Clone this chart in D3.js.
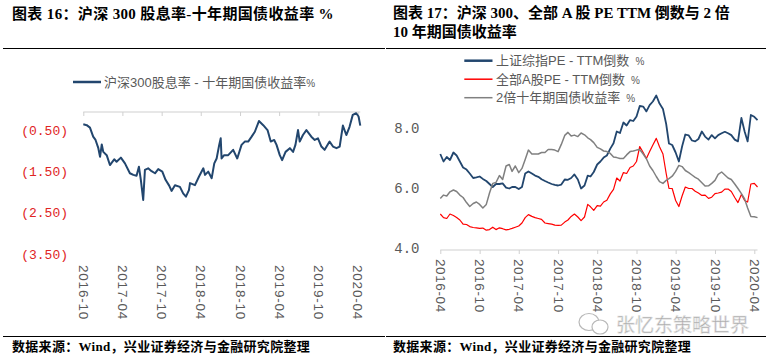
<!DOCTYPE html>
<html><head><meta charset="utf-8">
<script src="https://cdn.jsdelivr.net/npm/d3@7/dist/d3.min.js"></script>
<style>
html,body{margin:0;padding:0;background:#fff;}
svg{display:block;}
</style></head>
<body>
<svg id="c" width="772" height="359"></svg>
<script>
// ---------------- DATA ----------------
const leftTitle = "图表 16：沪深 300 股息率-十年期国债收益率 %";
const rightTitle1 = "图表 17：沪深 300、全部 A 股 PE TTM 倒数与 2 倍";
const rightTitle2 = "10 年期国债收益率";
const sourceText = "数据来源：Wind，兴业证券经济与金融研究院整理";
const leftLegend = "沪深300股息率 - 十年期国债收益率";
const rightLegend = ["上证综指PE - TTM倒数", "全部A股PE - TTM倒数", "2倍十年期国债收益率"];
const watermark = "张忆东策略世界";

const leftXTicks = ["2016-10","2017-04","2017-10","2018-04","2018-10","2019-04","2019-10","2020-04"];
const leftYTicks = [-0.5,-1.5,-2.5,-3.5];
const rightXTicks = ["2016-04","2016-10","2017-04","2017-10","2018-04","2018-10","2019-04","2019-10","2020-04"];
const rightYTicks = [4,6,8];

const leftDates = ["2016-10-01","2016-10-17","2016-11-01","2016-11-16","2016-11-27","2016-12-10","2016-12-18","2016-12-26","2017-01-02","2017-01-18",
"2017-02-02","2017-02-22","2017-03-05","2017-03-25","2017-04-13","2017-05-06","2017-05-22","2017-06-06","2017-06-17","2017-06-26",
"2017-07-07","2017-07-15","2017-07-30","2017-08-15","2017-08-31","2017-09-15","2017-10-04","2017-10-19","2017-11-05","2017-11-16",
"2017-12-02","2017-12-25","2018-01-09","2018-01-22","2018-02-05","2018-02-10","2018-03-05","2018-03-24","2018-04-13","2018-04-21",
"2018-05-06","2018-05-22","2018-06-03","2018-06-14","2018-06-26","2018-07-03","2018-07-07","2018-07-19","2018-08-07","2018-08-30",
"2018-09-18","2018-10-08","2018-10-23","2018-11-08","2018-11-24","2018-12-09","2018-12-28","2019-01-17","2019-02-06","2019-02-21",
"2019-03-09","2019-03-20","2019-04-04","2019-04-15","2019-05-01","2019-05-21","2019-06-05","2019-06-16","2019-06-28","2019-07-06",
"2019-07-21","2019-08-06","2019-08-29","2019-09-14","2019-09-29","2019-10-15","2019-10-30","2019-11-22","2019-12-08","2019-12-24",
"2020-01-08","2020-01-23","2020-02-08","2020-02-23","2020-03-09","2020-03-25","2020-04-05","2020-04-13"];
const leftValues = [-0.30,-0.32,-0.38,-0.60,-0.68,-0.88,-1.09,-0.79,-0.97,-1.05,
-1.29,-1.15,-1.21,-1.11,-1.25,-1.49,-1.53,-1.55,-1.33,-1.65,
-2.14,-1.41,-1.37,-1.44,-1.49,-1.39,-1.45,-1.65,-1.79,-1.92,
-1.78,-1.82,-1.98,-2.06,-1.90,-1.73,-1.78,-1.57,-1.37,-1.53,
-1.45,-1.61,-1.25,-1.13,-0.80,-0.64,-1.13,-1.05,-1.05,-0.92,
-1.13,-0.80,-0.72,-0.72,-0.60,-0.48,-0.22,-0.32,-0.44,-0.72,
-0.68,-0.80,-1.05,-1.17,-0.97,-0.88,-0.97,-0.80,-0.44,-0.72,
-0.56,-0.44,-0.60,-0.68,-0.64,-0.84,-0.92,-0.72,-0.84,-0.88,
-0.84,-0.33,-0.56,-0.36,-0.07,-0.03,-0.11,-0.33];

const rightDates = [
"2016-04-01","2016-04-16","2016-05-01","2016-05-16","2016-06-01","2016-06-16","2016-07-01","2016-07-16","2016-08-01","2016-08-16","2016-09-01","2016-09-16","2016-10-01","2016-10-16","2016-11-01","2016-11-16","2016-12-01","2016-12-16",
"2017-01-01","2017-01-16","2017-02-01","2017-02-16","2017-03-01","2017-03-16","2017-04-01","2017-04-16","2017-05-01","2017-05-16","2017-06-01","2017-06-16","2017-07-01","2017-07-16","2017-08-01","2017-08-16","2017-09-01","2017-09-16","2017-10-01","2017-10-16","2017-11-01","2017-11-16","2017-12-01","2017-12-16",
"2018-01-01","2018-01-16","2018-02-01","2018-02-16","2018-03-01","2018-03-16","2018-04-01","2018-04-16","2018-05-01","2018-05-16","2018-06-01","2018-06-16","2018-07-01","2018-07-16","2018-08-01","2018-08-16","2018-09-01","2018-09-16","2018-10-01","2018-10-16","2018-11-01","2018-11-16","2018-12-01","2018-12-16",
"2019-01-01","2019-01-16","2019-02-01","2019-02-16","2019-03-01","2019-03-16","2019-04-01","2019-04-16","2019-05-01","2019-05-16","2019-06-01","2019-06-16","2019-07-01","2019-07-16","2019-08-01","2019-08-16","2019-09-01","2019-09-16","2019-10-01","2019-10-16","2019-11-01","2019-11-16","2019-12-01","2019-12-16",
"2020-01-01","2020-01-16","2020-02-01","2020-02-16","2020-03-01","2020-03-16","2020-04-01","2020-04-16"];
const shPEInv = [7.20,6.95,7.10,7.00,7.25,7.15,6.95,6.75,6.68,6.55,6.40,6.42,6.45,6.37,6.30,6.20,6.10,6.20,
6.20,6.22,6.08,6.05,6.10,6.10,6.03,6.10,6.55,6.62,6.55,6.48,6.44,6.36,6.30,6.25,6.20,6.17,6.15,6.18,6.35,6.34,6.40,6.52,
6.35,6.05,6.15,6.48,6.45,6.60,6.85,6.95,7.08,7.15,7.38,7.56,7.95,7.90,8.25,8.15,8.33,8.30,8.45,8.80,8.78,8.62,8.83,8.95,
9.15,8.88,8.70,8.20,7.55,7.50,7.25,6.95,7.45,7.85,7.82,7.65,7.62,7.70,7.95,7.78,7.68,7.83,7.72,7.83,7.89,7.94,7.89,7.83,
7.68,7.62,8.40,7.95,7.62,8.50,8.44,8.33];
const allAPEInv = [5.20,5.08,5.05,5.20,5.15,5.08,5.00,4.86,4.85,4.78,4.75,4.74,4.72,4.73,4.66,4.68,4.76,4.68,
4.74,4.71,4.67,4.69,4.72,4.76,4.80,4.90,5.08,5.18,5.12,5.08,5.05,5.02,4.90,4.88,4.86,4.83,4.82,4.83,4.93,5.00,5.12,5.20,
5.10,4.98,5.10,5.52,5.44,5.32,5.48,5.46,5.60,5.66,5.87,6.02,6.40,6.30,6.58,6.55,6.75,6.80,6.95,7.45,7.25,7.05,7.28,7.50,
7.72,7.44,7.20,6.55,6.05,6.05,5.65,5.45,5.80,6.10,6.05,6.05,5.96,5.90,5.82,5.83,5.72,5.76,5.88,5.90,5.93,6.03,6.03,5.95,
5.75,5.58,5.85,5.65,5.60,6.20,6.22,6.10];
const bond2x = [5.72,5.83,5.80,5.94,6.00,5.95,5.83,5.75,5.58,5.45,5.55,5.60,5.52,5.40,5.52,5.90,6.22,6.25,
6.48,6.35,6.80,6.85,6.62,6.80,6.58,6.72,7.02,7.33,7.20,7.20,7.20,7.25,7.25,7.35,7.35,7.33,7.28,7.52,7.82,7.92,7.80,7.83,
7.78,7.90,7.84,7.74,7.68,7.58,7.42,7.37,7.30,7.28,7.22,7.10,7.08,7.05,7.05,7.17,7.28,7.30,7.33,7.35,7.20,7.04,6.80,6.65,
6.45,6.28,6.22,6.32,6.38,6.46,6.62,6.82,6.78,6.65,6.58,6.50,6.42,6.36,6.24,6.13,6.14,6.22,6.32,6.52,6.60,6.50,6.40,6.35,
6.20,6.05,5.88,5.70,5.40,5.12,5.11,5.08];

// ---------------- STYLE / LAYOUT ----------------
const BLUE = "#22466e", RED = "#ff0000", GRAY = "#808080", TXT = "#595959", YRED = "#e02424";
const SERIF = "'Liberation Serif','Noto Sans CJK SC',serif";
const SANS = "'Liberation Sans','Noto Sans CJK SC',sans-serif";
const MONO = "'Liberation Mono','DejaVu Sans Mono',monospace";

const parse = d3.utcParse("%Y-%m-%d");
const parseM = d3.utcParse("%Y-%m");
const svg = d3.select("#c");
svg.append("rect").attr("width",772).attr("height",359).attr("fill","#fff");

// frame texts
function title(x, y, t, ls){ svg.append("text").attr("x",x).attr("y",y).attr("font-family",SERIF)
  .attr("font-weight","bold").attr("font-size",15).attr("letter-spacing",ls+"px").attr("fill","#000").text(t); }
title(12, 19, leftTitle, 0.35);
title(393, 18, rightTitle1, 0);
title(393, 37, rightTitle2, 0);
[[3,385],[386,766]].forEach(([a,b])=>{
  svg.append("line").attr("x1",a).attr("x2",b).attr("y1",48.5).attr("y2",48.5).attr("stroke","#000").attr("stroke-width",1.2);
  svg.append("line").attr("x1",a).attr("x2",b).attr("y1",336.5).attr("y2",336.5).attr("stroke","#000").attr("stroke-width",1.2);
});
[12,393].forEach(x=>svg.append("text").attr("x",x).attr("y",350.5).attr("font-family",SERIF)
  .attr("font-weight","bold").attr("font-size",13).attr("letter-spacing","0.3px").attr("fill","#000").text(sourceText));

// ---------- LEFT CHART ----------
const xL = d3.scaleUtc().domain([parse("2016-10-01"), parse("2020-04-01")]).range([83.3, 357.7]);
const yL = d3.scaleLinear().domain([-3.5, 0]).range([255.9, 112]);
const leftData = leftDates.map((d,i)=>({d:parse(d), v:leftValues[i]})).filter(p=>p.v!==undefined);

const gLX = svg.append("g").attr("transform",`translate(0,${yL(0)})`)
  .call(d3.axisBottom(xL).tickValues(leftXTicks.map(parseM)).tickSize(4).tickSizeOuter(0).tickFormat(""));
gLX.select(".domain").remove();
gLX.selectAll(".tick line").attr("stroke","#d0d0d0");
svg.append("line").attr("x1",xL(leftData[0].d)).attr("x2",xL(leftData[leftData.length-1].d))
  .attr("y1",yL(0)).attr("y2",yL(0)).attr("stroke","#d0d0d0").attr("stroke-width",1.2);

const gLXL = svg.append("g").attr("transform","translate(0,265)")
  .call(d3.axisBottom(xL).tickValues(leftXTicks.map(parseM)).tickSize(0).tickFormat(d3.utcFormat("%Y-%m")));
gLXL.select(".domain").remove();
gLXL.selectAll("text").attr("transform","rotate(90)").attr("x",0).attr("y",0).attr("dy","0.36em")
  .attr("text-anchor","start").attr("font-family",SANS).attr("font-size",13.5).attr("letter-spacing","0.8px").attr("fill",TXT);

const gLY = svg.append("g").attr("transform","translate(68,-2)")
  .call(d3.axisLeft(yL).tickValues(leftYTicks).tickSize(0).tickPadding(0).tickFormat(v=>"("+d3.format(".2f")(Math.abs(v))+")"));
gLY.select(".domain").remove();
gLY.selectAll("text").attr("font-family",MONO).attr("font-size",13).attr("fill",YRED);

svg.append("path").datum(leftData).attr("fill","none").attr("stroke",BLUE).attr("stroke-width",2)
  .attr("stroke-linejoin","round").attr("d",d3.line().x(p=>xL(p.d)).y(p=>yL(p.v)));

// left legend
svg.append("line").attr("x1",73).attr("x2",101).attr("y1",82).attr("y2",82).attr("stroke",BLUE).attr("stroke-width",2.5);
const lt = svg.append("text").attr("x",104).attr("y",86.5).attr("font-family",SANS).attr("font-size",13).attr("fill",TXT);
lt.append("tspan").text(leftLegend);
lt.append("tspan").attr("font-size",10).text("%");

// ---------- RIGHT CHART ----------
const xR = d3.scaleUtc().domain([parse("2016-04-01"), parse("2020-04-01")]).range([440.3, 754.3]);
const yR = d3.scaleLinear().domain([4, 10]).range([250, 70]);
const rd = rightDates.map(parse);

const gRX = svg.append("g").attr("transform",`translate(0,${yR(4)})`)
  .call(d3.axisBottom(xR).tickValues(rightXTicks.map(parseM)).tickSize(4).tickSizeOuter(0).tickFormat(""));
gRX.select(".domain").remove();
gRX.selectAll(".tick line").attr("stroke","#d0d0d0");
svg.append("line").attr("x1",xR(rd[0])).attr("x2",xR(rd[rd.length-1]))
  .attr("y1",yR(4)).attr("y2",yR(4)).attr("stroke","#d0d0d0").attr("stroke-width",1.2);

const gRXL = svg.append("g").attr("transform","translate(0,259)")
  .call(d3.axisBottom(xR).tickValues(rightXTicks.map(parseM)).tickSize(0).tickFormat(d3.utcFormat("%Y-%m")));
gRXL.select(".domain").remove();
gRXL.selectAll("text").attr("transform","rotate(90)").attr("x",0).attr("y",0).attr("dy","0.36em")
  .attr("text-anchor","start").attr("font-family",SANS).attr("font-size",13.5).attr("letter-spacing","0.6px").attr("fill",TXT);

const gRY = svg.append("g").attr("transform","translate(419.5,-2)")
  .call(d3.axisLeft(yR).tickValues(rightYTicks).tickSize(0).tickPadding(0).tickFormat(d3.format(".1f")));
gRY.select(".domain").remove();
gRY.selectAll("text").attr("font-family",MONO).attr("font-size",14).attr("fill",TXT);

const series = [
  {vals: shPEInv, color: BLUE, w: 1.8},
  {vals: allAPEInv, color: RED, w: 1.2},
  {vals: bond2x, color: GRAY, w: 1.5}
];
const lineR = d3.line().x(p=>xR(p.d)).y(p=>yR(p.v));
series.forEach(s=>{
  const data = rd.map((d,i)=>({d, v:s.vals[i]})).filter(p=>p.v!==undefined);
  svg.append("path").datum(data).attr("fill","none").attr("stroke",s.color).attr("stroke-width",s.w)
    .attr("stroke-linejoin","round").attr("d",lineR);
});

// right legend
rightLegend.forEach((t,i)=>{
  const y = 60.7 + i*18.5;
  svg.append("line").attr("x1",464.3).attr("x2",492.5).attr("y1",y).attr("y2",y)
    .attr("stroke",series[i].color).attr("stroke-width", i===0?2.5:1.5);
  const tx = svg.append("text").attr("x",496).attr("y",y+4.5).attr("font-family",SANS).attr("font-size",13).attr("fill",TXT);
  tx.append("tspan").text(t);
  tx.append("tspan").attr("dx",6).attr("font-size",10).text("%");
});

// watermark
const wm = svg.append("g");
wm.append("ellipse").attr("cx",589).attr("cy",322).attr("rx",10).attr("ry",8.5).attr("fill","none").attr("stroke","#b8b8b8").attr("stroke-width",1.2);
wm.append("ellipse").attr("cx",600).attr("cy",327).attr("rx",8).attr("ry",7).attr("fill","#fff").attr("stroke","#b8b8b8").attr("stroke-width",1.2);
wm.append("text").attr("x",616).attr("y",331.5).attr("font-family","'Noto Sans CJK SC',sans-serif").attr("font-size",19)
  .attr("fill","#a8a8a8").attr("stroke","#e8e8e8").attr("stroke-width",0.6).text(watermark);
</script>
</body></html>
